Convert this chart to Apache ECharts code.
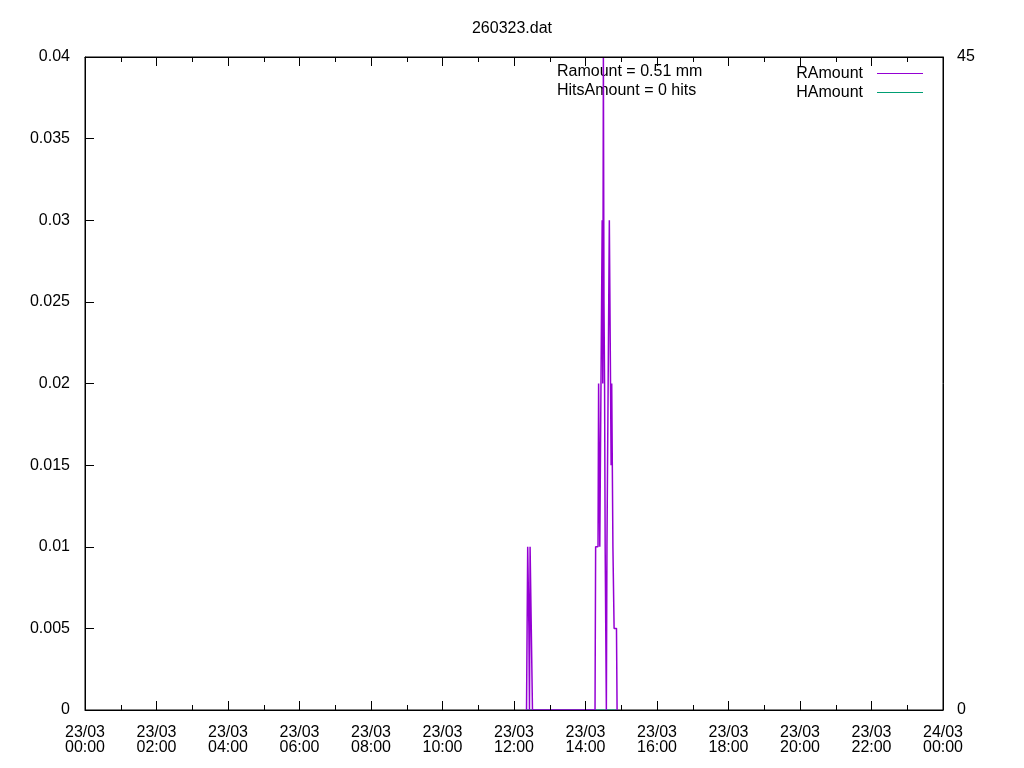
<!DOCTYPE html>
<html><head><meta charset="utf-8">
<script src="https://cdn.jsdelivr.net/npm/echarts@6/dist/echarts.min.js"></script>
<style>html,body{margin:0;padding:0;background:#fff}#c{width:1024px;height:768px}</style>
</head><body><div id="c"></div>
<script>
const chartTitle = '260323.dat';
const xTickLabels = ['23/03\n00:00','23/03\n02:00','23/03\n04:00','23/03\n06:00','23/03\n08:00','23/03\n10:00','23/03\n12:00','23/03\n14:00','23/03\n16:00','23/03\n18:00','23/03\n20:00','23/03\n22:00','24/03\n00:00'];
const annotations = ['Ramount = 0.51 mm', 'HitsAmount = 0 hits'];
const seriesNames = ['RAmount', 'HAmount'];
// minutes since midnight
const rainMinutes = [741,742,743,744,745,746,747,748,749,750,751,
  856,857,858,859,860,861,862,863,864,865,866,867,868,869,870,871,872,873,874,875,876,
  877,878,879,880,881,882,883,884,885,886,887,888,889,890,891,892,893];
const rainValues = [0,0.005,0.01,0.01,0.005,0,0.01,0.01,0.005,0.005,0,
  0,0.01,0.01,0.01,0.01,0.01,0.02,0.02,0.01,0.01,0.02,0.025,0.03,0.02,0.04,0.025,0.02,0.01,0.005,0,0.01,
  0.01,0.02,0.025,0.03,0.025,0.02,0.015,0.02,0.015,0.01,0.01,0.005,0.005,0.005,0.005,0.005,0];
const hitValues = rainMinutes.map(() => 0);

const FONT = 'Liberation Sans, Arial, sans-serif';
const FS = 16;
const chart = echarts.init(document.getElementById('c'));
const axisLineStyle = () => ({show: true, onZero: false, lineStyle: {color: '#000', width: 1}});
const tickStyle = () => ({show: true, inside: true, length: 9, lineStyle: {color: '#000', width: 1}});
const minorStyle = () => ({show: true, splitNumber: 2, length: 5, lineStyle: {color: '#000', width: 1}});
chart.setOption({
  animation: false,
  backgroundColor: '#fff',
  textStyle: {fontFamily: FONT},
  title: {text: chartTitle, left: 'center', top: 16, textStyle: {fontSize: FS, fontWeight: 'normal', color: '#000', fontFamily: FONT}},
  grid: {left: 85, right: 81, top: 57, bottom: 58, show: true, borderColor: '#000', borderWidth: 1, backgroundColor: 'transparent'},
  xAxis: [{
    type: 'value', min: 0, max: 1440, interval: 120, position: 'bottom', z: 5,
    axisLine: axisLineStyle(), axisTick: tickStyle(), minorTick: minorStyle(),
    splitLine: {show: false}, minorSplitLine: {show: false},
    axisLabel: {margin: 15, fontSize: FS, color: '#000', lineHeight: 15, fontFamily: FONT,
      formatter: v => xTickLabels[Math.round(v / 120)]}
  }, {
    type: 'value', min: 0, max: 1440, interval: 120, position: 'top', z: 5,
    axisLine: axisLineStyle(), axisTick: tickStyle(), minorTick: minorStyle(),
    splitLine: {show: false}, axisLabel: {show: false}
  }],
  yAxis: [{
    type: 'value', min: 0, max: 0.04, interval: 0.005, position: 'left', z: 5,
    axisLine: axisLineStyle(), axisTick: tickStyle(), splitLine: {show: false},
    axisLabel: {margin: 15, fontSize: FS, color: '#000', fontFamily: FONT}
  }, {
    type: 'value', min: 0, max: 45, interval: 45, position: 'right', z: 5,
    axisLine: axisLineStyle(), axisTick: tickStyle(), splitLine: {show: false},
    axisLabel: {margin: 14, fontSize: FS, color: '#000', fontFamily: FONT}
  }],
  series: [{
    name: seriesNames[0], type: 'line', step: 'end', xAxisIndex: 0, yAxisIndex: 0,
    data: rainMinutes.map((m, i) => [m, rainValues[i]]),
    showSymbol: false, lineStyle: {color: '#9400d3', width: 1.5}, itemStyle: {color: '#9400d3'}, z: 3
  }, {
    name: seriesNames[1], type: 'line', step: 'end', xAxisIndex: 0, yAxisIndex: 1,
    data: rainMinutes.map((m, i) => [m, hitValues[i]]),
    showSymbol: false, lineStyle: {color: '#009e73', width: 1}, itemStyle: {color: '#009e73'}, z: 1
  }],
  graphic: [
    {type: 'text', left: 557, top: 64, style: {text: annotations[0], fontSize: FS, fill: '#000', fontFamily: FONT}},
    {type: 'text', left: 557, top: 83, style: {text: annotations[1], fontSize: FS, fill: '#000', fontFamily: FONT}},
    {type: 'text', right: 1024 - 863, top: 66, style: {text: seriesNames[0], fontSize: FS, fill: '#000', fontFamily: FONT, align: 'right'}},
    {type: 'text', right: 1024 - 863, top: 85, style: {text: seriesNames[1], fontSize: FS, fill: '#000', fontFamily: FONT, align: 'right'}},
    {type: 'line', shape: {x1: 877, y1: 73.5, x2: 923, y2: 73.5}, style: {stroke: '#9400d3', lineWidth: 1}},
    {type: 'line', shape: {x1: 877, y1: 92.5, x2: 923, y2: 92.5}, style: {stroke: '#009e73', lineWidth: 1}}
  ]
});
</script></body></html>
